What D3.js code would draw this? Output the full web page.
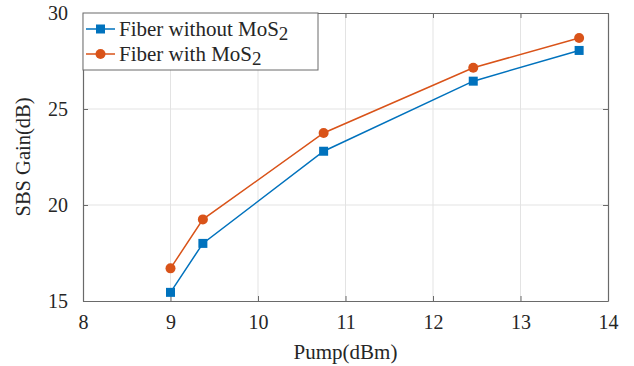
<!DOCTYPE html>
<html>
<head>
<meta charset="utf-8">
<script src="https://cdn.jsdelivr.net/npm/d3@7"></script>
<style>
body { margin: 0; background: #fff; }
svg text { font-family: "Liberation Serif", "Times New Roman", Times, "DejaVu Serif", serif !important; }
</style>
</head>
<body>
<svg id="chart" width="634" height="366"></svg>
<script>
const pump = [9, 9.37, 10.75, 12.46, 13.67];
const gainWithout = [15.45, 18.0, 22.8, 26.45, 28.05];
const gainWith = [16.7, 19.25, 23.75, 27.15, 28.7];
const xTicks = [8, 9, 10, 11, 12, 13, 14];
const yTicks = [15, 20, 25, 30];

const svg = d3.select('#chart');
const margin = {top: 13, right: 26, bottom: 65, left: 83};
const width = +svg.attr('width') - margin.left - margin.right;
const height = +svg.attr('height') - margin.top - margin.bottom;

const g = svg.append('g')
    .attr('transform', `translate(${margin.left},${margin.top})`);

const x = d3.scaleLinear().domain([8, 14]).range([0, width]);
const y = d3.scaleLinear().domain([15, 30]).range([height, 0]);

// grid
g.append('g').selectAll('line')
    .data(xTicks.slice(1, -1))
    .enter().append('line')
    .attr('x1', d => x(d)).attr('x2', d => x(d))
    .attr('y1', 0).attr('y2', height)
    .attr('stroke', '#e3e3e3').attr('stroke-width', 1);
g.append('g').selectAll('line')
    .data(yTicks.slice(1, -1))
    .enter().append('line')
    .attr('y1', d => y(d)).attr('y2', d => y(d))
    .attr('x1', 0).attr('x2', width)
    .attr('stroke', '#e3e3e3').attr('stroke-width', 1);

// axes
const xAxis = g.append('g')
    .attr('transform', `translate(0,${height})`)
    .call(d3.axisBottom(x).tickValues(xTicks).tickFormat(d3.format('d'))
        .tickSize(-5).tickPadding(14).tickSizeOuter(0));
const yAxis = g.append('g')
    .call(d3.axisLeft(y).tickValues(yTicks).tickFormat(d3.format('d'))
        .tickSize(-5).tickPadding(15).tickSizeOuter(0));
g.append('g')
    .attr('transform', `translate(${width},0)`)
    .call(d3.axisRight(y).tickValues(yTicks).tickSize(-5).tickSizeOuter(0))
    .selectAll('text').remove();
g.append('g')
    .call(d3.axisTop(x).tickValues(xTicks).tickSize(-5).tickSizeOuter(0))
    .selectAll('text').remove();

g.selectAll('.domain').attr('stroke', '#6a6a6a').attr('stroke-width', 1.2);
g.selectAll('.tick line').attr('stroke', '#6a6a6a');
[xAxis, yAxis].forEach(a => a.selectAll('text')
    .attr('font-size', 20)
    .attr('fill', '#262626'));

// axis labels
svg.append('text')
    .attr('x', margin.left + width / 2)
    .attr('y', 359)
    .attr('text-anchor', 'middle')
    .attr('font-size', 21)
    .attr('fill', '#262626')
    .text('Pump(dBm)');
svg.append('text')
    .attr('transform', `translate(30,${margin.top + height / 2}) rotate(-90)`)
    .attr('text-anchor', 'middle')
    .attr('font-size', 20.5)
    .attr('fill', '#262626')
    .text('SBS Gain(dB)');

// series
const series = [
    {name: 'Fiber without MoS', values: gainWithout, color: '#0072bd', shape: 'square'},
    {name: 'Fiber with MoS', values: gainWith, color: '#d95319', shape: 'circle'}
];

const line = d3.line().x(d => x(d[0])).y(d => y(d[1]));

function marker(sel, s, cx, cy) {
    if (s.shape === 'square') {
        sel.append('rect')
            .attr('x', cx - 4.5).attr('y', cy - 4.5)
            .attr('width', 9).attr('height', 9)
            .attr('fill', s.color);
    } else {
        sel.append('circle')
            .attr('cx', cx).attr('cy', cy).attr('r', 5)
            .attr('fill', s.color);
    }
}

series.forEach(s => {
    const pts = pump.map((p, i) => [p, s.values[i]]);
    g.append('path')
        .datum(pts)
        .attr('d', line)
        .attr('fill', 'none')
        .attr('stroke', s.color)
        .attr('stroke-width', 1.5);
    const mg = g.append('g');
    pts.forEach(d => marker(mg, s, x(d[0]), y(d[1])));
});

// legend
const leg = g.append('g');
leg.append('rect')
    .attr('x', 0).attr('y', 0)
    .attr('width', 235).attr('height', 57)
    .attr('fill', '#fff')
    .attr('stroke', '#6a6a6a')
    .attr('stroke-width', 1);
series.forEach((s, i) => {
    const cy = 16 + i * 25;
    leg.append('line')
        .attr('x1', 3).attr('x2', 32)
        .attr('y1', cy).attr('y2', cy)
        .attr('stroke', s.color).attr('stroke-width', 1.5);
    marker(leg, s, 17.5, cy);
    const t = leg.append('text')
        .attr('x', 36).attr('y', cy + 7)
        .attr('font-size', 21)
        .attr('fill', '#262626')
        .text(s.name);
    t.append('tspan')
        .attr('dy', 4)
        .attr('font-size', 19)
        .text('2');
});
</script>
</body>
</html>
